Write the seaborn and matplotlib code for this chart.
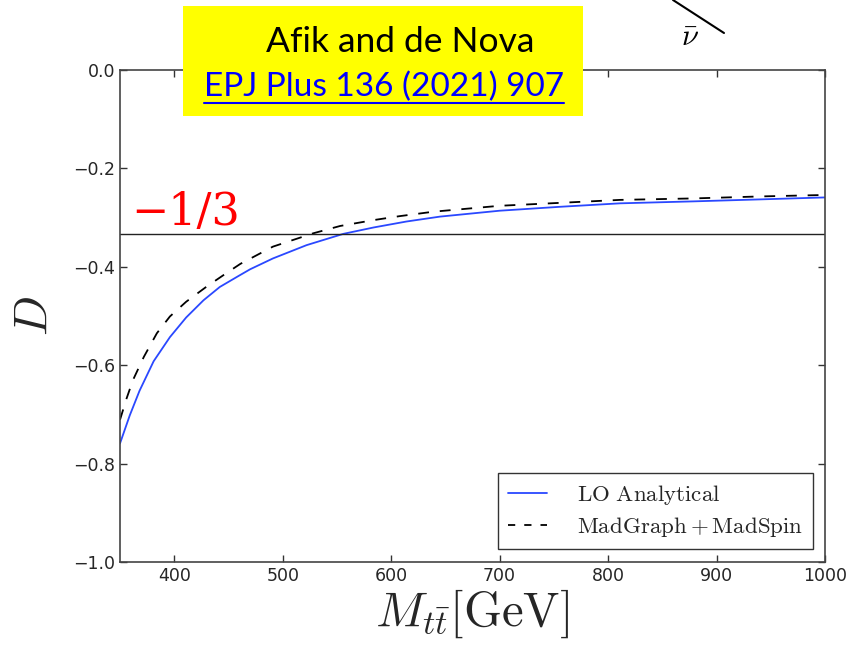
import numpy as np
import pandas as pd
import matplotlib
matplotlib.use("Agg")
import matplotlib.pyplot as plt
import seaborn as sns
from matplotlib.lines import Line2D
from matplotlib.patches import Rectangle

# ---- data ----
m_lo = [350, 359, 368, 381, 396, 411, 427, 442, 459, 470, 491, 522, 556, 584, 614, 645, 700, 756, 811, 879, 940, 1000]
d_lo = [-0.759, -0.702, -0.652, -0.592, -0.543, -0.503, -0.468, -0.441, -0.419, -0.405, -0.383, -0.356, -0.333, -0.320, -0.308, -0.298, -0.286, -0.278, -0.271, -0.267, -0.263, -0.259]
m_mg = [350, 356, 362, 372, 384, 396, 411, 430, 448, 461, 491, 528, 553, 584, 608, 639, 700, 756, 811, 879, 940, 1000]
d_mg = [-0.711, -0.668, -0.630, -0.583, -0.535, -0.501, -0.471, -0.440, -0.413, -0.394, -0.359, -0.332, -0.317, -0.305, -0.297, -0.288, -0.276, -0.270, -0.264, -0.261, -0.257, -0.254]
ref_value = -1.0 / 3.0
x_ticks = [400, 500, 600, 700, 800, 900, 1000]
y_ticks = [-1.0, -0.8, -0.6, -0.4, -0.2, 0.0]
series_labels = [r"$\mathrm{LO\ Analytical}$", r"$\mathrm{MadGraph+MadSpin}$"]

df_lo = pd.DataFrame({"M": m_lo, "D": d_lo})
df_mg = pd.DataFrame({"M": m_mg, "D": d_mg})

sns.set_style("ticks")
plt.rcParams["font.family"] = ["DejaVu Sans"]
plt.rcParams["mathtext.fontset"] = "cm"
plt.rcParams["xtick.direction"] = "in"
plt.rcParams["ytick.direction"] = "in"

fig = plt.figure(figsize=(8.56, 6.46), dpi=100)
ax = fig.add_axes([120 / 856, 1 - 562 / 646, 705 / 856, 492 / 646])

sns.lineplot(data=df_lo, x="M", y="D", ax=ax, color="#2a48ff", lw=1.3,
             label=series_labels[0], sort=False)
sns.lineplot(data=df_mg, x="M", y="D", ax=ax, color="black", lw=1.3,
             label=series_labels[1], sort=False)
ax.lines[1].set_dashes([6, 6])
ax.axhline(ref_value, color="#222222", lw=1.0)

ax.set_xlim(350, 1000)
ax.set_ylim(-1.0, 0.0)
ax.set_xticks(x_ticks)
ax.set_yticks(y_ticks)
ax.set_yticklabels([f"{v:.1f}".replace("-", "\u2212") for v in y_ticks])
ax.tick_params(axis="both", which="major", labelsize=12.5, length=5, width=1,
               top=True, right=True, color="#333333")
for s in ax.spines.values():
    s.set_color("#444444")
    s.set_linewidth(1.2)

ax.set_xlabel(r"$M_{t\bar{t}}[\mathrm{GeV}]$", fontsize=35, labelpad=2)
ax.set_ylabel(r"$D$", fontsize=34, labelpad=12)

leg = ax.legend(loc="lower right", bbox_to_anchor=(0.983, 0.026), borderaxespad=0,
                fontsize=16.5, handlelength=1.7, frameon=True, fancybox=False,
                edgecolor="black", borderpad=0.45, labelspacing=0.35, handletextpad=1.3)
leg.get_frame().set_linewidth(1.0)
leg.get_lines()[1].set_dashes([4, 5])

# red -1/3 annotation
fig.text(131 / 856, 1 - 225 / 646, "\u22121/3", color="red", fontsize=32,
         family="DejaVu Serif", ha="left", va="baseline")

# yellow citation box
fig.add_artist(Rectangle((183 / 856, 1 - 116 / 646), 400 / 856, 110 / 646,
                         transform=fig.transFigure, facecolor="#ffff00",
                         edgecolor="none", zorder=5))
fig.text(400 / 856, 1 - 42 / 646, "Afik and de Nova", fontsize=25.5, family="Lato",
         ha="center", va="center", color="black", zorder=6)
t2 = fig.text(384 / 856, 1 - 87 / 646, "EPJ Plus 136 (2021) 907", fontsize=24,
              family="Lato", ha="center", va="center", color="#0000ff", zorder=6)
fig.canvas.draw()
bb = t2.get_window_extent(fig.canvas.get_renderer())
uy = bb.y0 - 1
fig.add_artist(Line2D([bb.x0 / 856, bb.x1 / 856], [uy / 646, uy / 646],
                      transform=fig.transFigure, color="#0000ff", lw=1.5, zorder=6))

# decorative neutrino line
fig.add_artist(Line2D([673 / 856, 724 / 856], [1.0, 1 - 33 / 646],
                      transform=fig.transFigure, color="black", lw=1.5))
fig.text(690 / 856, 1 - 37 / 646, r"$\bar{\nu}$", fontsize=22, ha="center",
         va="center", color="black")

fig.savefig("out.png", dpi=100)
